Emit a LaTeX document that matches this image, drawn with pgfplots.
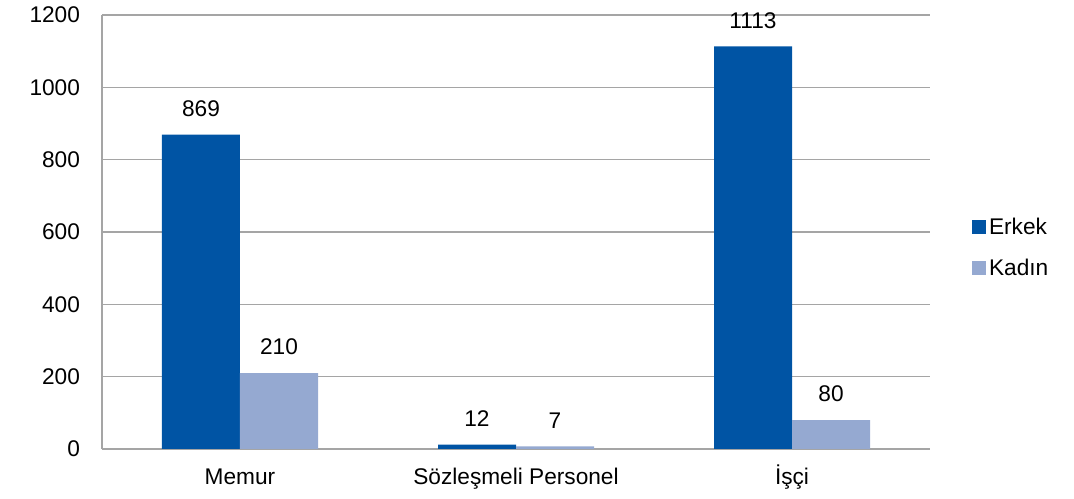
\documentclass[border=0pt]{standalone}
\usepackage{fontspec}
\setmainfont{Liberation Sans}
\usepackage{pgfplots}
\pgfplotsset{compat=1.18}
\definecolor{erkek}{RGB}{0,84,164}
\definecolor{kadin}{RGB}{149,169,209}
\definecolor{gridc}{RGB}{165,165,165}
\begin{document}
\begin{tikzpicture}[x=1pt,y=1pt]
\path[use as bounding box] (-76.5,-37.5) rectangle (729,336.75);
\begin{axis}[
    scale only axis,
    width=621pt, height=325.5pt,
    at={(0,0)}, anchor=south west,
    ybar=0pt, bar width=58.5pt,
    xmin=-0.5, xmax=2.5,
    ymin=0, ymax=1200,
    ytick={0,200,...,1200},
    xtick={0,1,2},
    xticklabels={Memur,Sözleşmeli Personel,İşçi},
    major tick length=0pt,
    ymajorgrids,
    grid style={gridc, line width=0.9pt},
    axis x line*=bottom, axis y line*=left,
    axis line style={gridc, line width=0.9pt, -},
    tick label style={font=\fontsize{17}{19}\selectfont},
    /pgf/number format/assume math mode=true,
    /pgf/number format/1000 sep={},
    yticklabel style={xshift=-13pt},
    xticklabel style={yshift=-11pt, text height=12pt, text depth=3pt},
    nodes near coords,
    nodes near coords style={font=\fontsize{17}{19}\selectfont, anchor=south, yshift=10pt},
    legend style={at={(1.046,0.463)}, anchor=west, draw=none, fill=none,
        font=\fontsize{17}{19}\selectfont, row sep=13pt,
        legend cell align=left},
    legend image code/.code={\fill[#1] (0pt,-5pt) rectangle (10.5pt,5.5pt);},
]
\addplot[fill=erkek, draw=none] coordinates {(0,869) (1,12) (2,1113)};
\addlegendentry{Erkek}
\addplot[fill=kadin, draw=none] coordinates {(0,210) (1,7) (2,80)};
\addlegendentry{Kadın}
\end{axis}
\end{tikzpicture}
\end{document}
